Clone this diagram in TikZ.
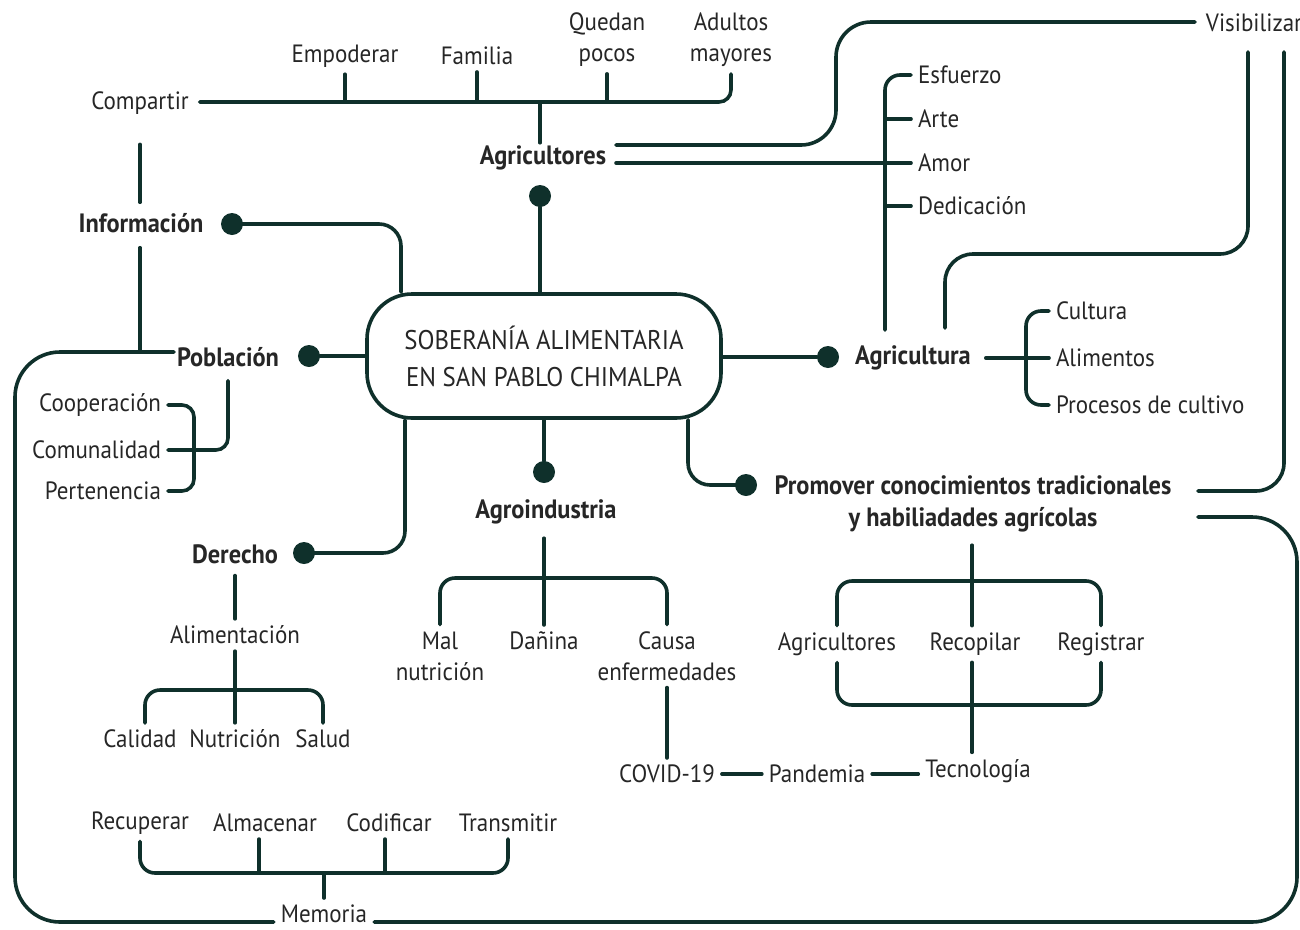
\documentclass[tikz,border=0pt]{standalone}
\usepackage{fontspec}
\setmainfont{PT Sans}[FakeStretch=0.92]
\definecolor{ln}{HTML}{0F302B}
\definecolor{tx}{HTML}{262626}
\begin{document}
\begin{tikzpicture}[x=1pt,y=-1pt,
  line/.style={draw=ln, line width=3.6pt, line cap=round},
  lbl/.style={text=tx, font=\fontsize{25}{31}\selectfont, inner sep=0pt, outer sep=7pt, align=center},
  bld/.style={text=tx, font=\fontsize{26.5}{32}\selectfont\bfseries, inner sep=0pt, outer sep=7pt, align=center},
  dot/.style={circle, fill=ln, minimum size=22pt, inner sep=0pt},
  hub/.style={draw=ln, line width=3.6pt, rounded corners=45pt, minimum width=354pt, minimum height=124pt,
    text=tx, font=\fontsize{27}{37}\selectfont, align=center, fill=white}]
\useasboundingbox (0,0) rectangle (1300,929);

% centre
\node[hub] (c) at (544,356) {SOBERANÍA ALIMENTARIA\\EN SAN PABLO CHIMALPA};

% dots
\node[dot] (dagr) at (540,196) {};
\node[dot] (dinf) at (232,224) {};
\node[dot] (dpob) at (309,356) {};
\node[dot] (dder) at (304,553) {};
\node[dot] (dagi) at (544,472) {};
\node[dot] (dpro) at (746,485) {};
\node[dot] (dagc) at (828,357) {};

% main labels
\node[bld] (agr) at (543,158) {Agricultores};
\node[bld] (inf) at (141,223) {Información};
\node[bld] (pob) at (228,357) {Población};
\node[bld] (der) at (235,554) {Derecho};
\node[bld] (agi) at (546,512) {Agroindustria};
\node[bld] (agc) at (913,358) {Agricultura};
\node[bld] (pro) at (973,504) {Promover conocimientos tradicionales\\y habiliadades agrícolas};

% top labels
\node[lbl] (comp) at (140,103) {Compartir};
\node[lbl] (emp) at (345,56) {Empoderar};
\node[lbl] (fam) at (477,56) {Familia};
\node[lbl] (que) at (607,40) {Quedan\\pocos};
\node[lbl] (adu) at (731,40) {Adultos\\mayores};
\node[lbl] (vis) at (1254,23) {Visibilizar};

% Esfuerzo group
\node[lbl, anchor=west] (esf) at (911,75) {Esfuerzo};
\node[lbl, anchor=west] (art) at (911,119) {Arte};
\node[lbl, anchor=west] (amo) at (911,163) {Amor};
\node[lbl, anchor=west] (ded) at (911,206) {Dedicación};

% Agricultura group
\node[lbl, anchor=west] (cul) at (1049,311) {Cultura};
\node[lbl, anchor=west] (ali) at (1049,358) {Alimentos};
\node[lbl, anchor=west] (prc) at (1049,405) {Procesos de cultivo};

% Poblacion group
\node[lbl, anchor=east] (coo) at (168,405) {Cooperación};
\node[lbl, anchor=east] (com) at (168,450) {Comunalidad};
\node[lbl, anchor=east] (per) at (168,491) {Pertenencia};

% Derecho group
\node[lbl] (alm2) at (235,635) {Alimentación};
\node[lbl] (cal) at (140,739) {Calidad};
\node[lbl] (nut) at (235,739) {Nutrición};
\node[lbl] (sal) at (323,739) {Salud};

% Memoria group
\node[lbl] (rec) at (140,823) {Recuperar};
\node[lbl] (alm) at (265,823) {Almacenar};
\node[lbl] (cod) at (389,823) {Codificar};
\node[lbl] (tra) at (508,823) {Transmitir};
\node[lbl] (mem) at (324,914) {Memoria};

% Agroindustria group
\node[lbl] (mal) at (440,656) {Mal\\nutrición};
\node[lbl] (dan) at (544,641) {Dañina};
\node[lbl] (cau) at (667,656) {Causa\\enfermedades};
\node[lbl] (cov) at (667,774) {COVID-19};
\node[lbl] (pan) at (817,774) {Pandemia};
\node[lbl] (tec) at (978,771) {Tecnología};

% Promover group
\node[lbl] (agr2) at (837,644) {Agricultores};
\node[lbl] (rcp) at (975,644) {Recopilar};
\node[lbl] (reg) at (1101,644) {Registrar};

% junction coordinates
\coordinate (jtop) at (540,102);
\coordinate (jesf) at (885,330);
\coordinate (jagc) at (1026,357);
\coordinate (jpob) at (194,449);
\coordinate (jder) at (235,690);
\coordinate (jmem) at (323,873);
\coordinate (jagi) at (544,578);
\coordinate (jpt) at (972,581);
\coordinate (jpb) at (972,705);
\coordinate (p1) at (1198,491);
\coordinate (p2) at (1198,517);

% centre connectors
\draw[line] (dagr) -- (dagr |- c.north);
\draw[line, rounded corners=22pt] (dinf.center) -| ([xshift=-143pt]c.north);
\draw[line] (dpob) -- (c.west);
\draw[line, rounded corners=22pt] ([xshift=-139pt]c.south) |- (dder.center);
\draw[line] (c.south) -- (dagi);
\draw[line, rounded corners=22pt] ([xshift=144pt]c.south) |- (dpro.center);
\draw[line] (dagc) -- (dagc -| c.east);

% top bracket
\draw[line, rounded corners=12pt] ([xshift=4pt]comp.east |- jtop) -| (adu.south);
\draw[line] (emp.south) -- (emp.south |- jtop);
\draw[line] (fam.south) -- (fam.south |- jtop);
\draw[line] (que.south) -- (que.south |- jtop);
\draw[line] ([yshift=-4pt]agr.north -| jtop) -- (jtop);

% Compartir - Informacion - loop
\draw[line] ([yshift=-23pt]comp.south) -- ([yshift=4pt]comp.south |- inf.north);
\draw[line] ([yshift=-8pt]comp.south |- inf.south) -- (comp.south |- 0,352);

% big loop left
\draw[line, rounded corners=45pt] ([xshift=4pt]pob.west |- 0,352) -- (15,352) -- (15,922) -- (mem.west |- 0,922);
% big loop right
\draw[line, rounded corners=45pt] (mem.east |- 0,922) -- (1297,922) -- (1297,517) -- (p2);

% Agricultores to Visibilizar
\draw[line, rounded corners=35pt] ([xshift=3pt]agr.east |- 0,145) -| (836,22) -- ([xshift=-4pt]vis.west |- 0,22);
% Agricultores to Esfuerzo bracket
\draw[line] ([xshift=3pt]agr.east |- amo.west) -- (amo.west -| jesf);
\draw[line, rounded corners=15pt] (esf.west) -| (jesf);
\draw[line] (art.west) -- (art.west -| jesf);
\draw[line] (amo.west) -- (amo.west -| jesf);
\draw[line] (ded.west) -- (ded.west -| jesf);

% Visibilizar to Agricultura and Promover
\draw[line, rounded corners=28pt] (1248,52) -- (1248,254) -- (945,254) -- (945,328);
\draw[line, rounded corners=28pt] (1284,52) -- (1284,491) -- (p1);

% Agricultura bracket
\draw[line] ([xshift=8pt]agc.east) -- (ali.west);
\draw[line, rounded corners=15pt] (cul.west) -| (jagc) |- (prc.west);

% Poblacion bracket
\draw[line, rounded corners=12pt] ([yshift=-7pt]pob.south) |- (com.east);
\draw[line, rounded corners=12pt] (coo.east) -| (jpob) |- (per.east);

% Derecho
\draw[line] ([yshift=-5pt]der.south) -- (alm2.north);
\draw[line] (alm2.south) -- (nut.north);
\draw[line, rounded corners=15pt] ([xshift=5pt]cal.north) |- (jder) -| (sal.north);

% Memoria
\draw[line, rounded corners=15pt] (rec.south) |- (jmem) -| (tra.south);
\draw[line] ([xshift=-6pt]alm.south) -- ([xshift=-6pt]alm.south |- jmem);
\draw[line] ([xshift=-4pt]cod.south) -- ([xshift=-4pt]cod.south |- jmem);
\draw[line] (mem.north) -- (mem.north |- jmem);

% Agroindustria
\draw[line] ([yshift=-7pt]dan.north |- agi.south) -- (dan.north);
\draw[line, rounded corners=15pt] (mal.north) |- (jagi) -| (cau.north);
\draw[line] (cau.south) -- (cov.north);
\draw[line] (cov.east) -- (pan.west);
\draw[line] (pan.east) -- (pan.east -| tec.west);

% Promover
\draw[line] ([yshift=-6pt]jpt |- pro.south) -- (jpt |- rcp.north);
\draw[line, rounded corners=15pt] (agr2.north) |- (jpt) -| (reg.north);
\draw[line, rounded corners=15pt] (agr2.south) |- (jpb) -| (reg.south);
\draw[line] (jpt |- rcp.south) -- (jpt |- tec.north);
\end{tikzpicture}
\end{document}
